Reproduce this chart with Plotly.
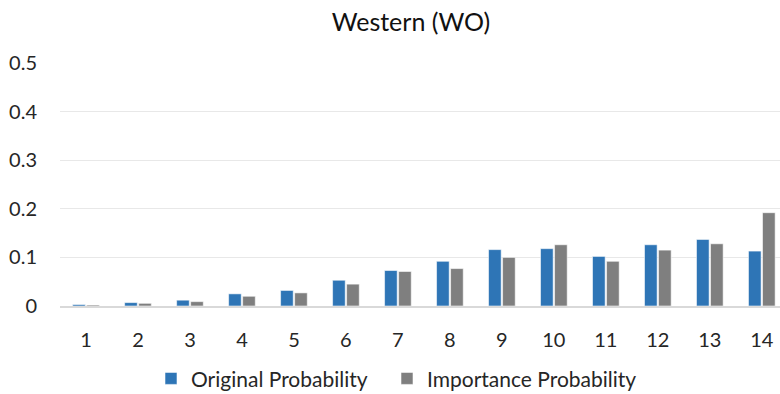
import plotly.graph_objects as go

# Category labels (1..14) and the two probability series
categories = list(range(1, 15))
original_prob = [0.003, 0.007, 0.012, 0.025, 0.032, 0.053, 0.073, 0.092,
                 0.116, 0.118, 0.102, 0.126, 0.137, 0.113]
importance_prob = [0.002, 0.0055, 0.009, 0.020, 0.027, 0.045, 0.071, 0.077,
                   0.100, 0.126, 0.092, 0.115, 0.128, 0.192]
y_ticks = [0, 0.1, 0.2, 0.3, 0.4, 0.5]
y_tick_text = ["0", "0.1", "0.2", "0.3", "0.4", "0.5"]

FONT = "Lato"
TEXT = "#262626"

fig = go.Figure()
fig.add_trace(go.Bar(
    x=categories, y=original_prob, name="Original Probability",
    marker=dict(color="#2E75B6", line=dict(color="rgba(255,255,255,0.55)", width=1)),
    legend="legend",
))
fig.add_trace(go.Bar(
    x=categories, y=importance_prob, name="Importance Probability",
    marker=dict(color="#7F7F7F", line=dict(color="rgba(255,255,255,0.55)", width=1)),
    legend="legend2",
))

legend_style = dict(orientation="h", xanchor="left", y=-0.215, yanchor="top",
                    font=dict(family=FONT, size=21, color=TEXT), itemwidth=30)

fig.update_layout(
    width=780, height=394,
    margin=dict(l=60, r=0, t=63, b=88, autoexpand=False),
    paper_bgcolor="white", plot_bgcolor="white",
    barmode="group", bargap=0.46, bargroupgap=0.1,
    font=dict(family=FONT, size=20, color=TEXT),
    title=dict(text="Western (WO)", x=411 / 780, xanchor="center",
               y=1 - 22 / 394, yanchor="middle",
               font=dict(family=FONT, size=25, color="#111111")),
    showlegend=True,
    legend=dict(x=(151 - 60) / 720, **legend_style),
    legend2=dict(x=(387 - 60) / 720, **legend_style),
    xaxis=dict(
        range=[0.5, 14.35], tickmode="array", tickvals=categories,
        ticktext=[str(c) for c in categories],
        showgrid=False, showline=True, linecolor="#d9d9d9", linewidth=1.5,
        ticks="", ticklabelstandoff=15, zeroline=False, fixedrange=True,
    ),
    yaxis=dict(
        range=[0, 0.5], tickmode="array", tickvals=y_ticks, ticktext=y_tick_text,
        showgrid=True, gridcolor="#e8e8e8", gridwidth=1, zeroline=False,
        ticks="", ticklabelstandoff=22, showline=False, fixedrange=True,
    ),
)

fig.write_html("out.html")
